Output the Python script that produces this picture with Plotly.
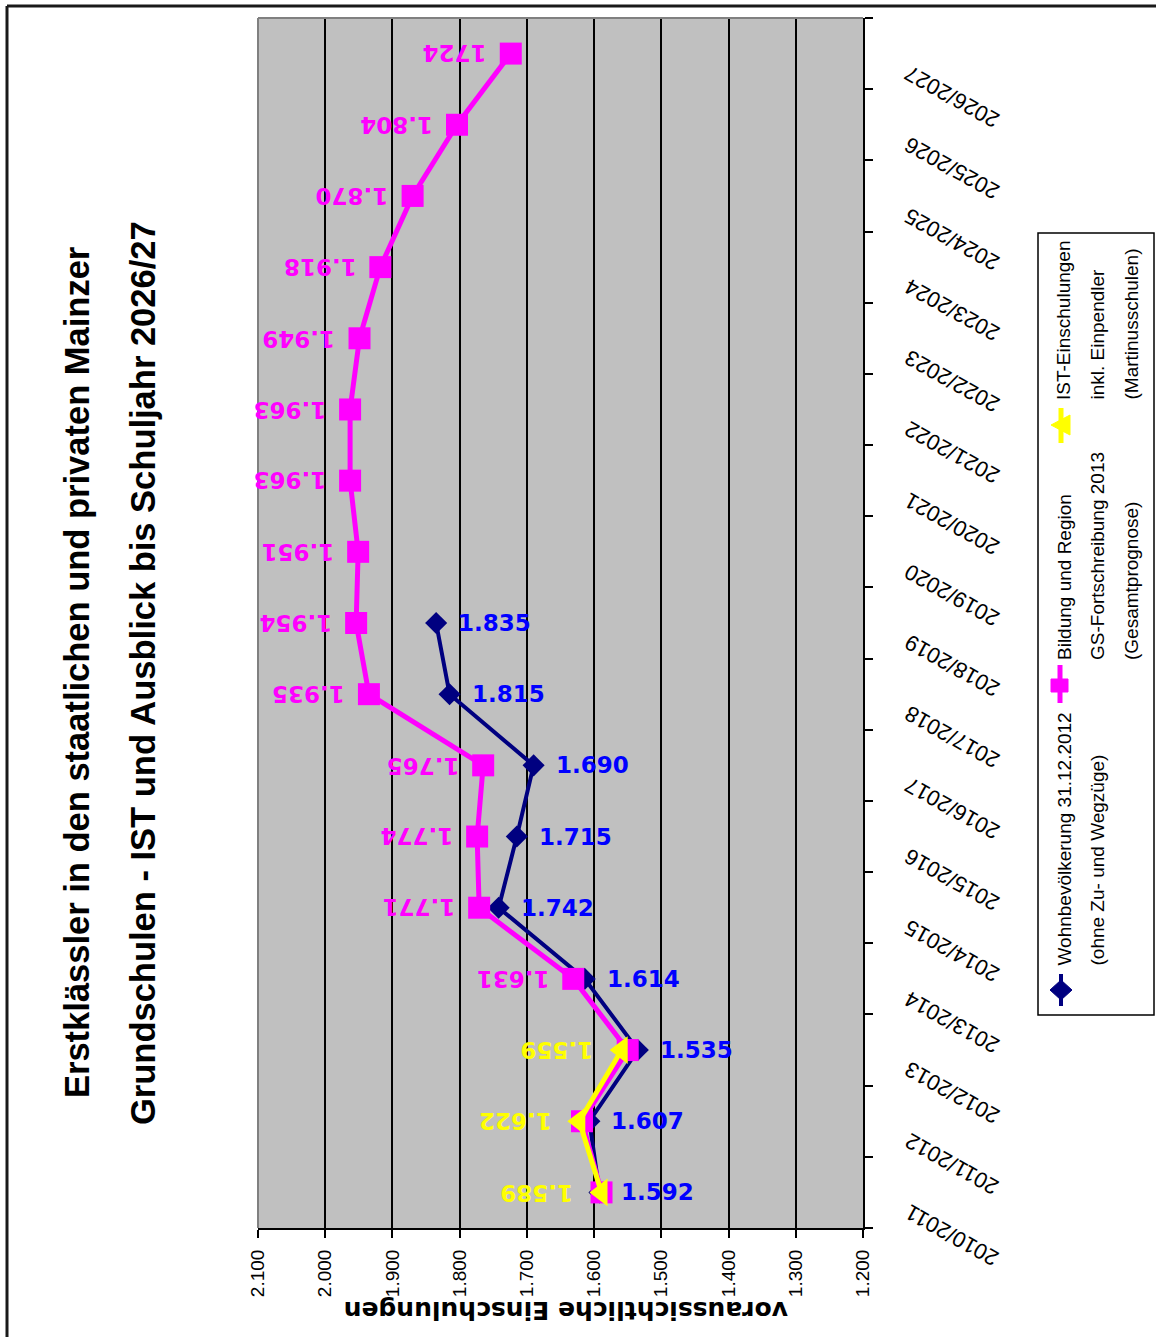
import plotly.graph_objects as go

# --- data -------------------------------------------------------------
years = ["2010/2011", "2011/2012", "2012/2013", "2013/2014", "2014/2015",
         "2015/2016", "2016/2017", "2017/2018", "2018/2019", "2019/2020",
         "2020/2021", "2021/2022", "2022/2023", "2023/2024", "2024/2025",
         "2025/2026", "2026/2027"]

# Wohnbevölkerung 31.12.2012 (ohne Zu- und Wegzüge)
wohnbevoelkerung = [1592, 1607, 1535, 1614, 1742, 1715, 1690, 1815, 1835]
# Bildung und Region, GS-Fortschreibung 2013 (Gesamtprognose)
bildung_region = [1589, 1618, 1550, 1631, 1771, 1774, 1765, 1935, 1954,
                  1951, 1963, 1963, 1949, 1918, 1870, 1804, 1724]
# IST-Einschulungen inkl. Einpendler (Martinusschulen)
ist_einschulungen = [1589, 1622, 1559]

x_ticks = [2100, 2000, 1900, 1800, 1700, 1600, 1500, 1400, 1300, 1200]

title_lines = ["Erstklässler in den staatlichen und privaten Mainzer",
               "Grundschulen - IST und Ausblick bis Schuljahr 2026/27"]
axis_title = "voraussichtliche Einschulungen"
legend_texts = [["Wohnbevölkerung 31.12.2012", "(ohne Zu- und Wegzüge)"],
                ["Bildung und Region", "GS-Fortschreibung 2013", "(Gesamtprognose)"],
                ["IST-Einschulungen", "inkl. Einpendler", "(Martinusschulen)"]]

NAVY, BLUE, PINK, YELLOW = "#000080", "#0000FF", "#FF00FF", "#FFFF00"

# --- page geometry ----------------------------------------------------
W, H = 1156, 1337
ML, MR, MT, MB = 258, 293, 18, 109
PW, PH = W - ML - MR, H - MT - MB

def px(x):
    return (x - ML) / PW

def py(y):
    return (H - MB - y) / PH

SANS = "Liberation Sans, Arial, sans-serif"
WIDE = "DejaVu Sans, Verdana, sans-serif"


def thousands(v):
    return f"{v:,}".replace(",", ".")


fig = go.Figure()

fig.add_trace(go.Scatter(
    x=wohnbevoelkerung, y=years[:len(wohnbevoelkerung)], mode="lines+markers",
    line=dict(color=NAVY, width=4),
    marker=dict(symbol="diamond", size=17, color=NAVY),
    cliponaxis=False, hoverinfo="skip"))
fig.add_trace(go.Scatter(
    x=bildung_region, y=years, mode="lines+markers",
    line=dict(color=PINK, width=5),
    marker=dict(symbol="square", size=22, color=PINK),
    cliponaxis=False, hoverinfo="skip"))
fig.add_trace(go.Scatter(
    x=ist_einschulungen, y=years[:len(ist_einschulungen)], mode="lines+markers",
    line=dict(color=YELLOW, width=5),
    marker=dict(symbol="triangle-left", size=24, color=YELLOW),
    cliponaxis=False, hoverinfo="skip"))

ann = []

# value labels
for v, yr in zip(wohnbevoelkerung, years):
    ann.append(dict(x=v, y=yr, xref="x", yref="y", text=f"<b>{thousands(v)}</b>",
                    showarrow=False, xanchor="left", yanchor="middle", xshift=20,
                    font=dict(family=WIDE, size=23, color=BLUE)))
for i, (v, yr) in enumerate(zip(bildung_region, years)):
    if i < len(ist_einschulungen):
        continue  # covered by the IST labels
    label = str(v) if i == len(years) - 1 else thousands(v)
    ann.append(dict(x=v, y=yr, xref="x", yref="y", text=f"<b>{label}</b>",
                    showarrow=False, xanchor="right", yanchor="middle", xshift=-22,
                    textangle=180, font=dict(family=WIDE, size=23, color=PINK)))
for v, yr in zip(ist_einschulungen, years):
    ann.append(dict(x=v, y=yr, xref="x", yref="y", text=f"<b>{thousands(v)}</b>",
                    showarrow=False, xanchor="right", yanchor="middle", xshift=-26,
                    textangle=180, font=dict(family=WIDE, size=23, color=YELLOW)))

# school-year labels beside the category axis
for yr in years:
    ann.append(dict(x=px(952), y=yr, xref="paper", yref="y", text=yr,
                    showarrow=False, xanchor="center", yanchor="middle", yshift=-43,
                    textangle=-151, font=dict(family=SANS, size=22, color="black")))

# title (two rotated lines)
for line, xc in zip(title_lines, [77, 143]):
    ann.append(dict(x=px(xc), y=py(673), xref="paper", yref="paper",
                    text=f"<b>{line}</b>", showarrow=False, textangle=-90,
                    xanchor="center", yanchor="middle",
                    font=dict(family=SANS, size=34.5, color="black")))

# value-axis title, upside down
ann.append(dict(x=px(566), y=py(1311), xref="paper", yref="paper",
                text=f"<b>{axis_title}</b>", showarrow=False, textangle=180,
                xanchor="center", yanchor="middle",
                font=dict(family=WIDE, size=25, color="black")))

# legend
legend_start = [968, 662, 402]
legend_cols = [1064, 1097, 1131]
for lines, y0 in zip(legend_texts, legend_start):
    for txt, xc in zip(lines, legend_cols):
        ann.append(dict(x=px(xc), y=py(y0), xref="paper", yref="paper", text=txt,
                        showarrow=False, textangle=-90, xanchor="center",
                        yanchor="bottom",
                        font=dict(family=SANS, size=19, color="black")))

shapes = []

def pline(x0, y0, x1, y1, color, width):
    shapes.append(dict(type="line", xref="paper", yref="paper",
                       x0=px(x0), y0=py(y0), x1=px(x1), y1=py(y1),
                       line=dict(color=color, width=width), layer="above"))

def ppath(points, color):
    d = "M " + " L ".join(f"{px(a)},{py(b)}" for a, b in points) + " Z"
    shapes.append(dict(type="path", xref="paper", yref="paper", path=d,
                       fillcolor=color, line=dict(color=color, width=1), layer="above"))

# page frame (top and left)
pline(7, 6, W, 6, "#1a1a1a", 3)
pline(7, 6, 7, H, "#1a1a1a", 3)
# grey plot-area border (left and top)
pline(ML, MT, ML, H - MB, "#808080", 2)
pline(ML, MT, W - MR, MT, "#808080", 2)

# legend box
shapes.append(dict(type="rect", xref="paper", yref="paper",
                   x0=px(1038), x1=px(1154), y0=py(1015), y1=py(233),
                   line=dict(color="black", width=1.5), fillcolor="white", layer="below"))
# legend keys
pline(1061, 1006, 1061, 974, NAVY, 4)
ppath([(1061, 980), (1072, 990), (1061, 1000), (1050, 990)], NAVY)
pline(1060, 703, 1060, 665, PINK, 5)
ppath([(1051, 679), (1068, 679), (1068, 692), (1051, 692)], PINK)
pline(1061, 443, 1061, 408, YELLOW, 5)
ppath([(1051, 425), (1070, 415), (1070, 435)], YELLOW)

fig.update_layout(
    width=W, height=H,
    margin=dict(l=ML, r=MR, t=MT, b=MB, pad=0),
    paper_bgcolor="white", plot_bgcolor="#C0C0C0",
    showlegend=False, separators=",.",
    font=dict(family=SANS, color="black"),
    annotations=ann, shapes=shapes,
    xaxis=dict(range=[2100, 1200], tickvals=x_ticks, tickformat=",d",
               tickangle=-90, tickfont=dict(family=SANS, size=19, color="black"),
               ticks="outside", ticklen=8, tickwidth=2, tickcolor="black",
               ticklabelstandoff=4,
               showline=True, linecolor="black", linewidth=2,
               showgrid=True, gridcolor="black", gridwidth=2, zeroline=False,
               fixedrange=True),
    yaxis=dict(type="category", categoryorder="array", categoryarray=years,
               range=[-0.5, len(years) - 0.5], side="right",
               showticklabels=False, ticks="outside", tickson="boundaries",
               ticklen=8, tickwidth=2, tickcolor="black",
               showline=True, linecolor="black", linewidth=2,
               showgrid=False, zeroline=False, fixedrange=True),
)

fig.write_html("out.html")
